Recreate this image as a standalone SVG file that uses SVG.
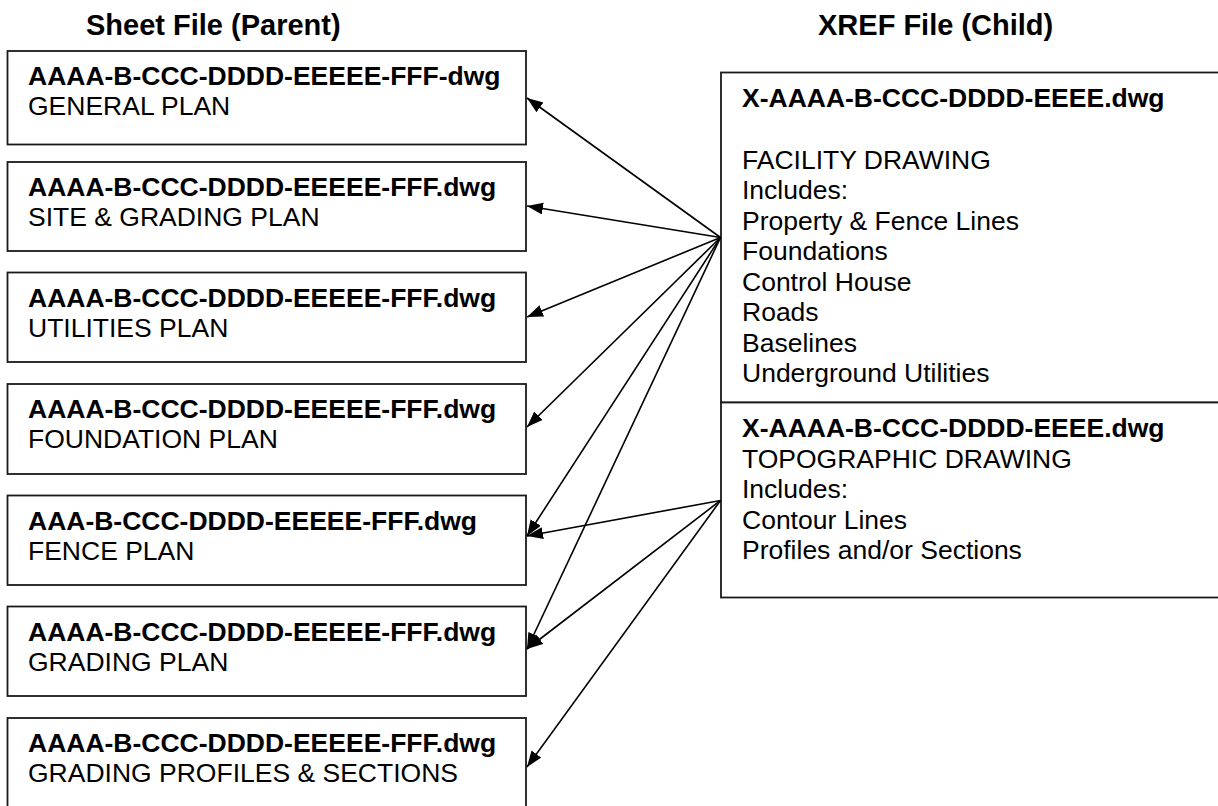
<svg xmlns="http://www.w3.org/2000/svg" width="1218" height="806" viewBox="0 0 1218 806">
  <style>
    .box { fill: #ffffff; stroke: #1a1a1a; stroke-width: 1.8; }
    .hdr { font-family: "Liberation Sans", Arial, sans-serif; font-weight: bold; font-size: 29px; fill: #000; }
    .t { font-family: "Liberation Sans", Arial, sans-serif; font-size: 26.5px; fill: #000; }
    .b { font-weight: bold; }
    .conn { fill: none; stroke: #000; stroke-width: 1.6; marker-end: url(#arrow); }
  </style>
  <defs>
    <marker id="arrow" markerUnits="userSpaceOnUse" markerWidth="18" markerHeight="14" refX="16" refY="6" orient="auto">
      <path d="M0,0 L16,6 L0,12 z" fill="#000"/>
    </marker>
  </defs>
  <rect width="1218" height="806" fill="#ffffff"/>

  <!-- column headings -->
  <text class="hdr" x="86" y="35">Sheet File (Parent)</text>
  <text class="hdr" x="818" y="35">XREF File (Child)</text>

  <!-- sheet files (parents) -->
  <g id="sheet-general">
    <rect class="box" x="7.5" y="51" width="518.5" height="93.5"/>
    <text class="t b" x="28" y="85">AAAA-B-CCC-DDDD-EEEEE-FFF-dwg</text>
    <text class="t" x="28" y="115">GENERAL PLAN</text>
  </g>
  <g id="sheet-site-grading">
    <rect class="box" x="7.5" y="162" width="518.5" height="89"/>
    <text class="t b" x="28" y="196">AAAA-B-CCC-DDDD-EEEEE-FFF.dwg</text>
    <text class="t" x="28" y="226">SITE &amp; GRADING PLAN</text>
  </g>
  <g id="sheet-utilities">
    <rect class="box" x="7.5" y="272.5" width="518.5" height="89.5"/>
    <text class="t b" x="28" y="306.5">AAAA-B-CCC-DDDD-EEEEE-FFF.dwg</text>
    <text class="t" x="28" y="336.5">UTILITIES PLAN</text>
  </g>
  <g id="sheet-foundation">
    <rect class="box" x="7.5" y="384" width="518.5" height="90"/>
    <text class="t b" x="28" y="418">AAAA-B-CCC-DDDD-EEEEE-FFF.dwg</text>
    <text class="t" x="28" y="448">FOUNDATION PLAN</text>
  </g>
  <g id="sheet-fence">
    <rect class="box" x="7.5" y="495.5" width="518.5" height="89.5"/>
    <text class="t b" x="28" y="529.5">AAA-B-CCC-DDDD-EEEEE-FFF.dwg</text>
    <text class="t" x="28" y="559.5">FENCE PLAN</text>
  </g>
  <g id="sheet-grading">
    <rect class="box" x="7.5" y="606.5" width="518.5" height="89.5"/>
    <text class="t b" x="28" y="640.5">AAAA-B-CCC-DDDD-EEEEE-FFF.dwg</text>
    <text class="t" x="28" y="670.5">GRADING PLAN</text>
  </g>
  <g id="sheet-grading-profiles">
    <rect class="box" x="7.5" y="718" width="518.5" height="92"/>
    <text class="t b" x="28" y="752">AAAA-B-CCC-DDDD-EEEEE-FFF.dwg</text>
    <text class="t" x="28" y="782">GRADING PROFILES &amp; SECTIONS</text>
  </g>

  <!-- xref files (children) -->
  <g id="xref-facility">
    <rect class="box" x="721" y="72.5" width="500" height="330"/>
    <text class="t" x="742">
      <tspan class="b" x="742" y="107">X-AAAA-B-CCC-DDDD-EEEE.dwg</tspan>
      <tspan x="742" y="168.5">FACILITY DRAWING</tspan>
      <tspan x="742" y="199">Includes:</tspan>
      <tspan x="742" y="229.5">Property &amp; Fence Lines</tspan>
      <tspan x="742" y="260">Foundations</tspan>
      <tspan x="742" y="290.5">Control House</tspan>
      <tspan x="742" y="321">Roads</tspan>
      <tspan x="742" y="351.5">Baselines</tspan>
      <tspan x="742" y="382">Underground Utilities</tspan>
    </text>
  </g>
  <g id="xref-topographic">
    <rect class="box" x="721" y="402.5" width="500" height="195"/>
    <text class="t" x="742">
      <tspan class="b" x="742" y="437">X-AAAA-B-CCC-DDDD-EEEE.dwg</tspan>
      <tspan x="742" y="467.5">TOPOGRAPHIC DRAWING</tspan>
      <tspan x="742" y="498">Includes:</tspan>
      <tspan x="742" y="528.5">Contour Lines</tspan>
      <tspan x="742" y="559">Profiles and/or Sections</tspan>
    </text>
  </g>

  <!-- reference connectors -->
  <g id="connectors">
    <line class="conn" x1="720.5" y1="237.5" x2="527" y2="98"/>
    <line class="conn" x1="720.5" y1="237.5" x2="527" y2="206"/>
    <line class="conn" x1="720.5" y1="237.5" x2="527" y2="317"/>
    <line class="conn" x1="720.5" y1="237.5" x2="527" y2="427"/>
    <line class="conn" x1="720.5" y1="237.5" x2="527" y2="536"/>
    <line class="conn" x1="720.5" y1="237.5" x2="527" y2="649"/>
    <line class="conn" x1="720.5" y1="500.5" x2="527" y2="536"/>
    <line class="conn" x1="720.5" y1="500.5" x2="527" y2="649"/>
    <line class="conn" x1="720.5" y1="500.5" x2="527" y2="767"/>
  </g>
</svg>
